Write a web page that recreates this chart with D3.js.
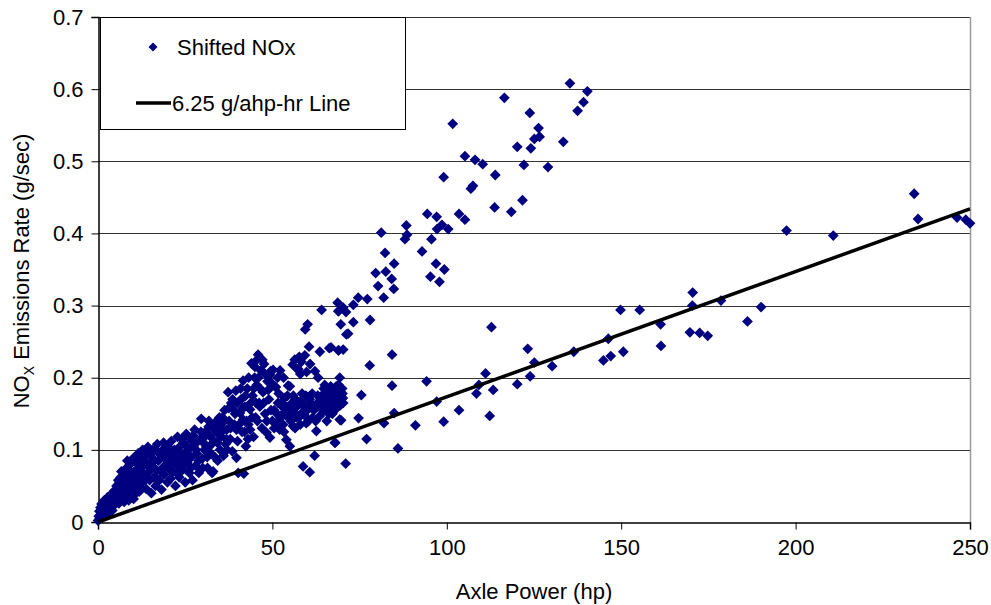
<!DOCTYPE html>
<html>
<head>
<meta charset="utf-8">
<script src="https://cdn.jsdelivr.net/npm/d3@7"></script>
<style>
  body { margin: 0; background: #fff; }
  text { font-family: "Liberation Sans", Arial, sans-serif; }
</style>
</head>
<body>
<script>
// axle power (hp), shifted NOx rate (g/sec)
var shiftedNOx = [
  // near the origin
  [0,0.002],[0.2,0.008],[0.4,0.015],[0.5,0.004],[0.7,0.02],[0.9,0.01],[1.0,0.025],[1.2,0.016],[1.3,0.006],
  [1.5,0.022],[1.7,0.012],[1.8,0.03],[2.0,0.018],[2.2,0.008],[2.3,0.026],[2.5,0.015],[2.7,0.034],[2.9,0.022],
  [3.1,0.012],[3.3,0.03],[3.5,0.02],[3.7,0.038],[3.9,0.026],[4.1,0.016],[4.3,0.034],[4.6,0.043],[4.8,0.024],[5.0,0.03],
  // 5 - 20 hp
  [5.3,0.05],[5.6,0.038],[5.8,0.058],[6.0,0.026],[6.3,0.045],[6.5,0.062],[6.8,0.035],[7.0,0.052],[7.3,0.07],
  [7.5,0.028],[7.8,0.044],[8.0,0.06],[8.2,0.075],[8.5,0.038],[8.7,0.052],[9.0,0.067],[9.2,0.08],[9.5,0.045],
  [9.7,0.058],[10.0,0.088],[10.2,0.032],[10.4,0.07],[10.7,0.05],[11.0,0.082],[11.2,0.062],[11.5,0.095],[11.8,0.042],
  [12.0,0.072],[12.3,0.088],[12.6,0.055],[12.8,0.1],[13.0,0.078],[13.3,0.065],[13.5,0.092],[13.8,0.046],[14.0,0.082],
  [14.3,0.104],[14.6,0.07],[14.8,0.058],[15.0,0.095],[15.3,0.04],[15.5,0.078],[15.8,0.088],[16.0,0.062],[16.3,0.1],
  [16.5,0.05],[16.8,0.072],[17.0,0.108],[17.3,0.085],[17.6,0.058],[17.9,0.094],[18.2,0.045],[18.5,0.075],[18.8,0.11],
  [19.0,0.066],[19.3,0.088],[19.6,0.1],[19.9,0.055],
  [5.5,0.03],[6.2,0.055],[7.2,0.04],[7.9,0.068],[8.8,0.03],[9.3,0.07],[10.5,0.06],[10.9,0.04],[11.7,0.075],
  [12.2,0.048],[12.9,0.085],[13.6,0.058],[14.2,0.095],[14.9,0.075],[15.6,0.1],[16.1,0.085],[16.9,0.06],[17.5,0.095],
  [18.0,0.07],[18.6,0.1],[19.2,0.078],[19.7,0.09],[8.4,0.085],[6.7,0.07],[11.3,0.088],
  // 20 - 40 hp
  [20.2,0.078],[20.5,0.092],[20.8,0.06],[21.0,0.112],[21.3,0.085],[21.6,0.07],[21.9,0.1],[22.2,0.05],[22.5,0.09],
  [22.8,0.118],[23.0,0.078],[23.3,0.062],[23.6,0.105],[23.9,0.088],[24.2,0.072],[24.5,0.11],[24.8,0.095],[25.0,0.055],
  [25.3,0.122],[25.6,0.082],[25.9,0.1],[26.2,0.068],[26.5,0.115],[26.8,0.09],[27.1,0.058],[27.4,0.105],[27.7,0.128],
  [28.0,0.078],[28.3,0.095],[28.6,0.112],[28.9,0.068],[29.2,0.114],[29.6,0.143],[29.9,0.088],[30.2,0.11],[30.5,0.1],
  [30.8,0.125],[31.1,0.105],[31.4,0.075],[31.7,0.132],[32.1,0.119],[32.4,0.095],[32.7,0.068],[33.0,0.07],[33.3,0.112],
  [33.6,0.138],[34.0,0.124],[34.3,0.085],[34.6,0.137],[35.0,0.133],[35.0,0.1],[35.3,0.118],[35.7,0.145],[36.0,0.092],
  [36.3,0.155],[36.6,0.108],[36.9,0.128],[37.3,0.18],[37.6,0.14],[37.9,0.115],[38.2,0.165],[38.5,0.098],[38.8,0.156],
  [39.1,0.135],[39.5,0.182],[39.7,0.128],[39.7,0.089],[40.0,0.112],
  [20.0,0.105],[20.7,0.072],[21.5,0.095],[22.0,0.082],[22.6,0.068],[23.2,0.098],[24.0,0.115],[24.6,0.08],[25.5,0.105],
  [26.0,0.088],[26.6,0.075],[27.3,0.12],[28.1,0.1],[28.8,0.085],[29.5,0.125],[30.0,0.075],[30.6,0.118],[31.3,0.09],
  [32.0,0.105],[32.9,0.13],[33.5,0.09],[34.2,0.11],[34.8,0.145],[35.5,0.125],[36.2,0.14],[36.8,0.115],[37.5,0.158],
  [38.0,0.13],[38.6,0.17],[39.3,0.15],[39.9,0.165],[37.0,0.1],[31.8,0.14],
  // 40 - 70 hp
  [40.2,0.068],[40.7,0.151],[41.0,0.17],[41.3,0.125],[41.6,0.196],[41.6,0.142],[41.8,0.067],[42.1,0.16],[42.4,0.105],
  [42.8,0.185],[43.1,0.135],[43.6,0.156],[43.6,0.128],[44.0,0.22],[44.3,0.175],[44.6,0.118],[44.9,0.2],[45.2,0.145],
  [45.5,0.19],[45.9,0.232],[46.2,0.165],[46.4,0.16],[46.7,0.21],[47.0,0.13],[47.3,0.18],[47.6,0.219],[47.9,0.15],
  [48.3,0.124],[48.6,0.195],[49.0,0.17],[49.3,0.117],[49.3,0.204],[49.5,0.209],[49.7,0.193],[50.0,0.14],[50.2,0.211],
  [40.4,0.135],[40.9,0.185],[41.5,0.158],[42.3,0.175],[42.6,0.14],[43.2,0.2],[43.8,0.165],[44.2,0.145],[44.7,0.185],
  [45.0,0.215],[45.3,0.165],[45.7,0.14],[46.0,0.2],[46.5,0.185],[47.1,0.225],[47.5,0.165],[48.0,0.205],[48.4,0.14],
  [48.8,0.183],[49.6,0.155],[45.6,0.225],[43.0,0.115],[42.0,0.125],
  [50.5,0.13],[50.7,0.188],[51.0,0.187],[51.3,0.15],[51.6,0.165],[52.1,0.128],[52.4,0.145],[52.8,0.16],[53.1,0.135],
  [53.5,0.172],[53.8,0.148],[54.0,0.114],[54.3,0.175],[54.5,0.156],[54.5,0.189],[55.0,0.105],[55.0,0.188],[55.3,0.14],
  [55.6,0.165],[55.9,0.133],[56.2,0.152],[56.6,0.17],[56.9,0.145],[57.3,0.211],[57.4,0.212],[57.7,0.229],[57.9,0.167],
  [58.2,0.15],[58.5,0.178],[58.8,0.077],[59.0,0.16],[59.3,0.231],[59.4,0.267],[59.7,0.137],[59.8,0.208],[60.0,0.155],
  [50.5,0.155],[51.2,0.138],[51.8,0.178],[52.5,0.165],[53.0,0.15],[53.3,0.125],[53.9,0.16],[54.8,0.145],[55.5,0.155],
  [56.0,0.175],[56.5,0.13],[57.0,0.16],[57.6,0.145],[58.0,0.135],[58.7,0.165],[59.2,0.148],[59.6,0.175],
  [51.5,0.2],[52.2,0.21],[53.2,0.2],[55.8,0.218],[56.4,0.225],[58.3,0.222],[58.0,0.205],
  [60.1,0.274],[60.5,0.243],[60.7,0.069],[60.7,0.17],[60.7,0.174],[60.8,0.219],[61.2,0.16],[61.6,0.145],[62.1,0.092],
  [62.2,0.209],[62.6,0.126],[62.9,0.165],[63.1,0.2],[63.6,0.147],[63.6,0.236],[64.0,0.172],[64.1,0.294],[64.5,0.177],
  [64.8,0.155],[65.2,0.168],[65.6,0.14],[66.0,0.182],[66.3,0.241],[66.5,0.163],[66.5,0.17],[66.9,0.175],[67.0,0.185],
  [67.2,0.15],[67.4,0.156],[67.5,0.165],[67.9,0.11],[68.0,0.178],[68.0,0.16],[68.3,0.188],[68.5,0.158],[68.9,0.238],
  [69.0,0.19],[69.0,0.168],[69.3,0.142],[69.3,0.2],[69.5,0.162],[69.8,0.17],[70.0,0.185],[70.2,0.172],[70.3,0.165],
  [60.3,0.14],[60.9,0.165],[61.4,0.178],[61.9,0.155],[62.4,0.14],[63.0,0.175],[63.4,0.16],[64.3,0.165],[64.7,0.185],
  [65.4,0.175],[65.9,0.16],[66.2,0.15],[67.7,0.175],[68.7,0.175],[69.6,0.18],[70.1,0.178],[66.7,0.188],[65.0,0.19],
  // upper branch
  [68.7,0.304],[68.9,0.292],[70.3,0.297],[69.1,0.293],[71.1,0.291],[73.2,0.301],[74.6,0.311],[77.2,0.309],[71.7,0.261],
  [71.2,0.260],[73.2,0.277],[69.6,0.274],[78.0,0.280],[66.8,0.242],[69.0,0.238],[70.3,0.239],[84.3,0.232],[77.9,0.217],
  [81.9,0.311],[80.3,0.327],[79.6,0.345],[84.8,0.323],[84.2,0.337],[82.5,0.347],[84.9,0.358],[82.3,0.373],[81.2,0.401],
  [88.0,0.392],[88.6,0.398],[88.4,0.411],[92.9,0.375],[95.3,0.340],[97.9,0.333],[96.9,0.358],[99.3,0.350],[95.6,0.392],
  [97.2,0.406],[100.4,0.406],[98.6,0.412],[94.4,0.427],[97.1,0.423],[103.5,0.427],[105.2,0.419],[99.1,0.478],[101.7,0.552],
  [106.9,0.462],[107.5,0.466],[105.2,0.507],[108.1,0.502],[110.3,0.496],[113.9,0.481],[113.7,0.436],[118.5,0.430],
  [121.7,0.446],[122.1,0.495],[129.0,0.492],[120.2,0.520],[124.1,0.518],[125.1,0.531],[126.6,0.534],[126.3,0.546],
  [133.4,0.527],[123.8,0.567],[116.5,0.588],[135.3,0.608],[137.5,0.570],[139.2,0.582],[140.3,0.597],
  // lower scatter
  [71.0,0.081],[68.0,0.110],[77.0,0.115],[86.0,0.102],[69.7,0.141],[74.7,0.144],[82.0,0.137],[84.9,0.151],[91.0,0.134],
  [75.5,0.176],[84.3,0.189],[94.2,0.195],[97.1,0.167],[99.1,0.139],[103.5,0.155],[108.5,0.178],[109.2,0.190],[111.1,0.206],
  [112.3,0.147],[113.3,0.183],[112.8,0.270],[120.2,0.191],[123.9,0.202],[125.1,0.221],[123.2,0.240],[130.2,0.216],
  [136.4,0.236],[144.9,0.224],[147.0,0.230],[146.3,0.254],[150.6,0.236],[149.8,0.294],[155.3,0.294],[161.3,0.274],
  [161.4,0.244],[169.7,0.263],[172.5,0.262],[174.8,0.258],[170.4,0.300],[170.5,0.318],[178.6,0.307],[186.2,0.278],
  [190.1,0.298],[197.4,0.404],[210.8,0.397],[234.0,0.455],[235.1,0.420],[246.3,0.422],[248.8,0.419],[250,0.414]
];

// 6.25 g/ahp-hr reference line end points
var refLine = [[0, 0], [250, 0.434]];

var xTicks = [0, 50, 100, 150, 200, 250];
var yTicks = [0, 0.1, 0.2, 0.3, 0.4, 0.5, 0.6, 0.7];

var width = 991, height = 605;
var margin = {top: 17, right: 21, bottom: 83, left: 98};

var svg = d3.select('body').append('svg')
    .attr('width', width)
    .attr('height', height);

var x = d3.scaleLinear()
    .domain([0, 250])
    .range([margin.left, width - margin.right]);

var y = d3.scaleLinear()
    .domain([0, 0.7])
    .range([height - margin.bottom, margin.top]);

// grid lines
svg.append('g')
    .selectAll('line')
    .data(yTicks.slice(1))
    .join('line')
    .attr('x1', x(0))
    .attr('x2', x(250))
    .attr('y1', d => Math.round(y(d)) + 0.5)
    .attr('y2', d => Math.round(y(d)) + 0.5)
    .attr('stroke', '#333')
    .attr('stroke-width', 1);

// right frame
svg.append('line')
    .attr('x1', Math.round(x(250)) + 0.5)
    .attr('x2', Math.round(x(250)) + 0.5)
    .attr('y1', y(0.7))
    .attr('y2', y(0))
    .attr('stroke', '#999')
    .attr('stroke-width', 1.5);

// axes
var xAxis = svg.append('g')
    .attr('transform', 'translate(0,' + (Math.round(y(0)) + 0.5) + ')')
    .call(d3.axisBottom(x).tickValues(xTicks).tickSize(7).tickPadding(10).tickFormat(d3.format('d')));

var yAxis = svg.append('g')
    .attr('transform', 'translate(' + (Math.round(x(0)) + 0.5) + ',0)')
    .call(d3.axisLeft(y).tickValues(yTicks).tickSize(7).tickPadding(8).tickFormat(d => d === 0 ? '0' : d3.format('.1f')(d)));

[xAxis, yAxis].forEach(function(g) {
  g.select('.domain').attr('stroke', '#000').attr('stroke-width', 1.5);
  g.selectAll('.tick line').attr('stroke', '#000');
  g.selectAll('.tick text')
      .attr('font-size', 22)
      .attr('font-family', '"Liberation Sans", Arial, sans-serif')
      .attr('fill', '#000');
});

// points
var diamond = d3.symbol().type(d3.symbolSquare).size(58);

svg.append('g')
    .selectAll('path')
    .data(shiftedNOx)
    .join('path')
    .attr('d', diamond)
    .attr('transform', d => 'translate(' + x(d[0]) + ',' + y(d[1]) + ') rotate(45)')
    .attr('fill', '#000080');

// reference line
svg.append('path')
    .datum(refLine)
    .attr('d', d3.line().x(d => x(d[0])).y(d => y(d[1])))
    .attr('stroke', '#000')
    .attr('stroke-width', 3.5)
    .attr('fill', 'none');

// legend
var legend = svg.append('g');

legend.append('rect')
    .attr('x', 100.5)
    .attr('y', 17.5)
    .attr('width', 305)
    .attr('height', 112)
    .attr('fill', '#fff')
    .attr('stroke', '#000')
    .attr('stroke-width', 1);

legend.append('path')
    .attr('d', d3.symbol().type(d3.symbolSquare).size(40))
    .attr('transform', 'translate(153,47) rotate(45)')
    .attr('fill', '#000080');

legend.append('text')
    .attr('x', 177)
    .attr('y', 55)
    .attr('font-size', 22)
    .text('Shifted NOx');

legend.append('line')
    .attr('x1', 136)
    .attr('x2', 171)
    .attr('y1', 103)
    .attr('y2', 103)
    .attr('stroke', '#000')
    .attr('stroke-width', 3.5);

legend.append('text')
    .attr('x', 172)
    .attr('y', 111)
    .attr('font-size', 22)
    .text('6.25 g/ahp-hr Line');

// axis titles
svg.append('text')
    .attr('x', x(125))
    .attr('y', 599)
    .attr('text-anchor', 'middle')
    .attr('font-size', 22)
    .text('Axle Power (hp)');

var yTitle = svg.append('text')
    .attr('transform', 'translate(29,271) rotate(-90)')
    .attr('text-anchor', 'middle')
    .attr('font-size', 22);

yTitle.append('tspan').text('NO');
yTitle.append('tspan').attr('font-size', 14).attr('dy', 5).text('X');
yTitle.append('tspan').attr('dy', -5).text(' Emissions Rate (g/sec)');
</script>
</body>
</html>
